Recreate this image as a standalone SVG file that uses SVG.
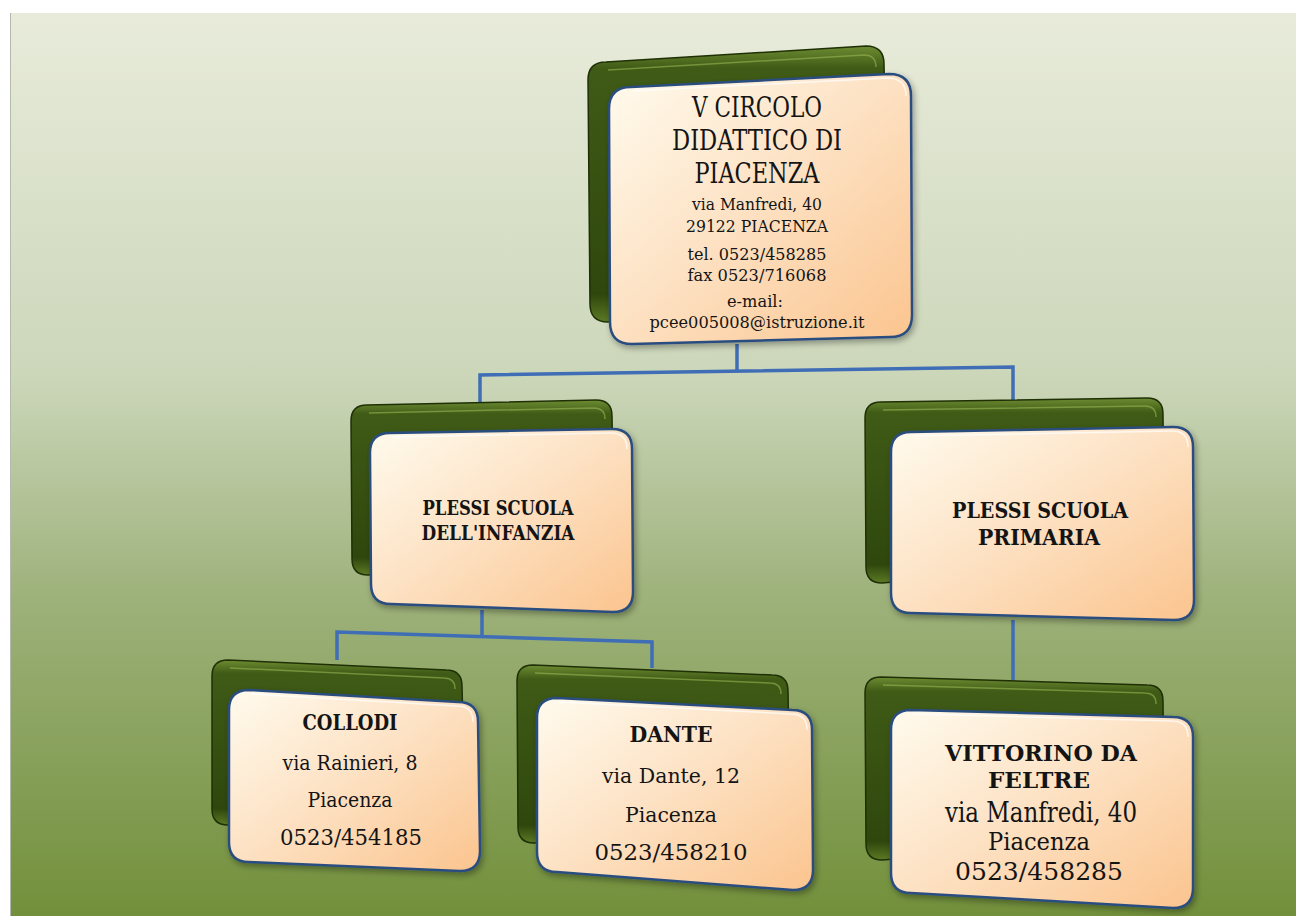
<svg xmlns="http://www.w3.org/2000/svg" width="1296" height="916" viewBox="0 0 1296 916">
<defs>
<linearGradient id="bg" x1="0" y1="0" x2="0" y2="1">
<stop offset="0" stop-color="#e8ebda"/>
<stop offset="0.4" stop-color="#ccd7ba"/>
<stop offset="0.65" stop-color="#9db17a"/>
<stop offset="1" stop-color="#72903b"/>
</linearGradient>
<linearGradient id="front" x1="0" y1="0" x2="1" y2="1">
<stop offset="0" stop-color="#fffbee"/>
<stop offset="0.45" stop-color="#fde3c6"/>
<stop offset="1" stop-color="#fbc48e"/>
</linearGradient>
<linearGradient id="back" x1="0" y1="0" x2="0" y2="1">
<stop offset="0" stop-color="#6e8c32"/>
<stop offset="0.08" stop-color="#3f5b16"/>
<stop offset="0.9" stop-color="#2f470d"/>
<stop offset="1" stop-color="#5c7a24"/>
</linearGradient>
<filter id="sh" x="-10%" y="-10%" width="125%" height="125%">
<feDropShadow dx="2" dy="3" stdDeviation="3" flood-color="#000" flood-opacity="0.35"/>
</filter>
</defs>
<style>
.back{fill:url(#back);stroke:#1f3006;stroke-width:1.5}
.backhl{fill:none;stroke:#9cbb5a;stroke-width:1.5;opacity:0.55}
.front{fill:url(#front);stroke:#2c4d80;stroke-width:2.5;filter:url(#sh)}
.fronthl{fill:none;stroke:#ffffff;stroke-width:1.5;opacity:0.7}
.conn{fill:none;stroke:#3f6db6;stroke-width:3.5;stroke-linejoin:miter}
text{font-family:"DejaVu Serif","Liberation Serif",serif;fill:#141414;text-anchor:middle}
.b{font-weight:bold}
</style>
<rect x="0" y="0" width="1296" height="916" fill="#ffffff"/>
<rect x="10" y="13" width="1286" height="903" fill="url(#bg)"/>
<line x1="10.5" y1="13" x2="10.5" y2="916" stroke="#b5b8ad" stroke-width="1"/>

<g id="connectors">
<path class="conn" d="M737,344 L737,371"/>
<path class="conn" d="M480,404 L480,375 L1013,367 L1013,400"/>
<path class="conn" d="M482,610 L482,636"/>
<path class="conn" d="M337,660 L337,632 L652,642 L652,668"/>
<path class="conn" d="M1013,620 L1013,680"/>
</g>

<g id="node-circolo">
<path class="back" d="M606,62 L866,46 Q884,46 884,64 L888,292 Q888,310 870,310 L608,322 Q590,322 590,304 L588,80 Q588,62 606,62 Z"/>
<path class="backhl" d="M608,70 L864,55 Q876,55 876,67"/>
<path class="front" d="M631,87 L889,74 Q911,74 911,96 L912,315 Q912,337 890,337 L632,344 Q610,344 610,322 L609,109 Q609,87 631,87 Z"/>
<path class="fronthl" d="M633,91 L887,78 Q906,78 906,96"/>
<text x="757" y="117" font-size="27" textLength="130" lengthAdjust="spacingAndGlyphs">V CIRCOLO</text>
<text x="757" y="150" font-size="27" textLength="170" lengthAdjust="spacingAndGlyphs">DIDATTICO DI</text>
<text x="757" y="183" font-size="27" textLength="125" lengthAdjust="spacingAndGlyphs">PIACENZA</text>
<text x="757" y="210" font-size="16.5" textLength="130" lengthAdjust="spacingAndGlyphs">via Manfredi, 40</text>
<text x="757" y="232" font-size="16.5" textLength="142" lengthAdjust="spacingAndGlyphs">29122 PIACENZA</text>
<text x="757" y="260" font-size="16.5" textLength="139" lengthAdjust="spacingAndGlyphs">tel. 0523/458285</text>
<text x="757" y="281" font-size="16.5" textLength="139" lengthAdjust="spacingAndGlyphs">fax 0523/716068</text>
<text x="755" y="307" font-size="16.5" textLength="56" lengthAdjust="spacingAndGlyphs">e-mail:</text>
<text x="757" y="328" font-size="16.5" textLength="215" lengthAdjust="spacingAndGlyphs">pcee005008@istruzione.it</text>
</g>

<g id="node-infanzia">
<path class="back" d="M367,405 L596,400 Q612,400 612,416 L614,544 Q614,560 598,560 L368,575 Q352,575 352,559 L351,421 Q351,405 367,405 Z"/>
<path class="backhl" d="M369,413 L594,408 Q605,408 605,419"/>
<path class="front" d="M390,433 L612,429 Q632,429 632,449 L633,592 Q633,612 613,612 L391,604 Q371,604 371,584 L370,453 Q370,433 390,433 Z"/>
<path class="fronthl" d="M392,437 L611,433 Q627,433 627,449"/>
<text class="b" x="498" y="515" font-size="21" textLength="151" lengthAdjust="spacingAndGlyphs">PLESSI SCUOLA</text>
<text class="b" x="498" y="540" font-size="21" textLength="153" lengthAdjust="spacingAndGlyphs">DELL'INFANZIA</text>
</g>

<g id="node-primaria">
<path class="back" d="M881,402 L1147,398 Q1163,398 1163,414 L1164,544 Q1164,560 1148,560 L882,583 Q866,583 866,567 L865,418 Q865,402 881,402 Z"/>
<path class="backhl" d="M883,410 L1145,406 Q1156,406 1156,417"/>
<path class="front" d="M911,432 L1173,427 Q1193,427 1193,447 L1194,600 Q1194,620 1174,620 L911,613 Q891,613 891,593 L891,452 Q891,432 911,432 Z"/>
<path class="fronthl" d="M913,436 L1172,431 Q1188,431 1188,447"/>
<text class="b" x="1040" y="518" font-size="22" textLength="176" lengthAdjust="spacingAndGlyphs">PLESSI SCUOLA</text>
<text class="b" x="1039" y="545" font-size="22" textLength="122" lengthAdjust="spacingAndGlyphs">PRIMARIA</text>
</g>

<g id="node-collodi">
<path class="back" d="M228,660 L446,670 Q462,670 462,686 L465,804 Q465,820 449,820 L228,825 Q212,825 212,809 L212,676 Q212,660 228,660 Z"/>
<path class="backhl" d="M230,668 L444,678 Q455,678 455,689"/>
<path class="front" d="M249,690 L458,702 Q478,702 478,722 L480,851 Q480,871 460,871 L249,862 Q229,862 229,842 L229,710 Q229,690 249,690 Z"/>
<path class="fronthl" d="M251,694 L457,706 Q473,706 473,722"/>
<text class="b" x="350" y="730" font-size="22" textLength="95" lengthAdjust="spacingAndGlyphs">COLLODI</text>
<text x="350" y="770" font-size="20" textLength="135" lengthAdjust="spacingAndGlyphs">via Rainieri, 8</text>
<text x="350" y="807" font-size="20" textLength="85" lengthAdjust="spacingAndGlyphs">Piacenza</text>
<text x="351" y="845" font-size="22" textLength="142" lengthAdjust="spacingAndGlyphs">0523/454185</text>
</g>

<g id="node-dante">
<path class="back" d="M533,665 L772,675 Q788,675 788,691 L790,814 Q790,830 774,830 L534,843 Q518,843 518,827 L517,681 Q517,665 533,665 Z"/>
<path class="backhl" d="M535,673 L770,683 Q781,683 781,694"/>
<path class="front" d="M557,698 L792,710 Q812,710 812,730 L813,870 Q813,890 793,890 L557,872 Q537,872 537,852 L537,718 Q537,698 557,698 Z"/>
<path class="fronthl" d="M559,702 L791,714 Q807,714 807,730"/>
<text class="b" x="671" y="742" font-size="22" textLength="83" lengthAdjust="spacingAndGlyphs">DANTE</text>
<text x="671" y="783" font-size="20" textLength="138" lengthAdjust="spacingAndGlyphs">via Dante, 12</text>
<text x="671" y="822" font-size="20" textLength="92" lengthAdjust="spacingAndGlyphs">Piacenza</text>
<text x="671" y="860" font-size="23" textLength="153" lengthAdjust="spacingAndGlyphs">0523/458210</text>
</g>

<g id="node-vittorino">
<path class="back" d="M881,677 L1147,685 Q1163,685 1163,701 L1164,824 Q1164,840 1148,840 L882,860 Q866,860 866,844 L865,693 Q865,677 881,677 Z"/>
<path class="backhl" d="M883,685 L1145,693 Q1156,693 1156,704"/>
<path class="front" d="M911,710 L1173,717 Q1193,717 1193,737 L1193,888 Q1193,908 1173,908 L911,893 Q891,893 891,873 L891,730 Q891,710 911,710 Z"/>
<path class="fronthl" d="M913,714 L1172,721 Q1188,721 1188,737"/>
<text class="b" x="1041" y="761" font-size="22" textLength="192" lengthAdjust="spacingAndGlyphs">VITTORINO DA</text>
<text class="b" x="1039" y="788" font-size="22" textLength="102" lengthAdjust="spacingAndGlyphs">FELTRE</text>
<text x="1041" y="822" font-size="27" textLength="192" lengthAdjust="spacingAndGlyphs">via Manfredi, 40</text>
<text x="1039" y="850" font-size="25" textLength="102" lengthAdjust="spacingAndGlyphs">Piacenza</text>
<text x="1039" y="880" font-size="25" textLength="168" lengthAdjust="spacingAndGlyphs">0523/458285</text>
</g>
</svg>
